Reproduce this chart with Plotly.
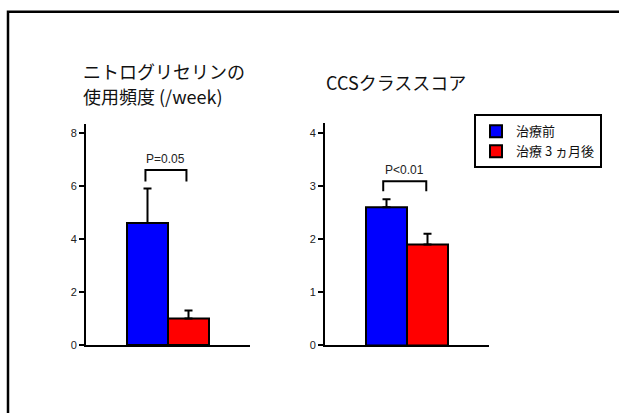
import plotly.graph_objects as go

# Data
groups = ["治療前", "治療 3 ヵ月後"]
colors = ["#0000ff", "#ff0000"]
ntg_values = [4.6, 1.0]
ntg_err = [1.3, 0.3]
ccs_values = [2.6, 1.9]
ccs_err = [0.15, 0.2]
ntg_bracket = [6.17, 6.6]
ccs_bracket = [2.9, 3.09]
ntg_p = "P=0.05"
ccs_p = "P<0.01"
ntg_title_lines = ["ニトログリセリンの", "使用頻度 (/week)"]
ccs_title = "CCSクラススコア"
bar_x = [1.5, 2.5]

W, H = 619, 413
FONT = "Liberation Sans, Arial, Noto Sans CJK JP"
JFONT = "Noto Sans CJK JP"

fig = go.Figure()

for i, g in enumerate(groups):
    fig.add_trace(go.Bar(
        x=[bar_x[i]], y=[ntg_values[i]], width=1.0, name=g,
        marker=dict(color=colors[i], line=dict(color="black", width=2)),
        error_y=dict(type="data", array=[ntg_err[i]], arrayminus=[0], symmetric=False,
                     color="black", thickness=2, width=4),
        xaxis="x", yaxis="y", legendgroup=g, showlegend=True))
for i, g in enumerate(groups):
    fig.add_trace(go.Bar(
        x=[bar_x[i]], y=[ccs_values[i]], width=1.0, name=g,
        marker=dict(color=colors[i], line=dict(color="black", width=2)),
        error_y=dict(type="data", array=[ccs_err[i]], arrayminus=[0], symmetric=False,
                     color="black", thickness=2, width=4),
        xaxis="x2", yaxis="y2", legendgroup=g, showlegend=False))

# significance brackets
fig.add_trace(go.Scatter(x=[1.45, 1.45, 2.45, 2.45],
                         y=[ntg_bracket[0], ntg_bracket[1], ntg_bracket[1], ntg_bracket[0]],
                         mode="lines", line=dict(color="black", width=2),
                         xaxis="x", yaxis="y", showlegend=False, hoverinfo="skip"))
fig.add_trace(go.Scatter(x=[1.42, 1.42, 2.47, 2.47],
                         y=[ccs_bracket[0], ccs_bracket[1], ccs_bracket[1], ccs_bracket[0]],
                         mode="lines", line=dict(color="black", width=2),
                         xaxis="x2", yaxis="y2", showlegend=False, hoverinfo="skip"))

axis_common = dict(showline=True, linecolor="black", linewidth=2, showgrid=False, zeroline=False)
tickfont = dict(size=11, family=FONT, color="#222")
fig.update_layout(
    width=W, height=H, margin=dict(l=0, r=0, t=0, b=0),
    paper_bgcolor="white", plot_bgcolor="white",
    font=dict(family=FONT, color="#222"),
    barmode="overlay",
    xaxis=dict(domain=[86 / W, 250 / W], range=[0, 4], showticklabels=False, ticks="",
               anchor="y", **axis_common),
    yaxis=dict(domain=[1 - 350 / H, 1 - 126 / H], range=[0, 8.33], tickvals=[0, 2, 4, 6, 8],
               ticks="outside", ticklen=5, tickwidth=2, tickcolor="black",
               tickfont=tickfont, anchor="x", **axis_common),
    xaxis2=dict(domain=[325 / W, 489 / W], range=[0, 4], showticklabels=False, ticks="",
                anchor="y2", **axis_common),
    yaxis2=dict(domain=[1 - 350.5 / H, 1 - 125 / H], range=[0, 4.18], tickvals=[0, 1, 2, 3, 4],
                ticks="outside", ticklen=5, tickwidth=2, tickcolor="black",
                tickfont=tickfont, anchor="x2", **axis_common),
    legend=dict(x=474 / W, y=1 - 116 / H, xanchor="left", yanchor="top",
                bordercolor="black", borderwidth=2, bgcolor="white",
                font=dict(size=13, family=JFONT, color="#111"),
                tracegroupgap=0, itemwidth=30),
    showlegend=True,
)

fig.add_annotation(x=1.95, y=ntg_bracket[1], xref="x", yref="y", text=ntg_p, showarrow=False,
                   yanchor="bottom", yshift=2, font=dict(size=12, family=FONT, color="#222"))
fig.add_annotation(x=1.95, y=ccs_bracket[1], xref="x2", yref="y2", text=ccs_p, showarrow=False,
                   yanchor="bottom", yshift=2, font=dict(size=12, family=FONT, color="#222"))

fig.add_annotation(x=81 / W, y=1 - 72 / H, xref="paper", yref="paper", text=ntg_title_lines[0],
                   showarrow=False, xanchor="left", yanchor="middle", align="left",
                   font=dict(size=18, family=JFONT, color="#111"))
fig.add_annotation(x=81 / W, y=1 - 97 / H, xref="paper", yref="paper", text=ntg_title_lines[1],
                   showarrow=False, xanchor="left", yanchor="middle", align="left",
                   font=dict(size=18, family=JFONT, color="#111"))
fig.add_annotation(x=324 / W, y=1 - 83 / H, xref="paper", yref="paper", text=ccs_title,
                   showarrow=False, xanchor="left", yanchor="middle", align="left",
                   font=dict(size=18, family=JFONT, color="#111"))

# outer frame (only top and left edges are visible in the picture)
fl, ft = 8 / W, 1 - 12 / H
fig.add_shape(type="path", xref="paper", yref="paper",
              path=f"M {fl},-0.1 L {fl},{ft} L 1.1,{ft}",
              line=dict(color="black", width=2.5))

fig.write_html("out.html", post_script="document.body.style.margin='0px';",
               config={"displayModeBar": False})
